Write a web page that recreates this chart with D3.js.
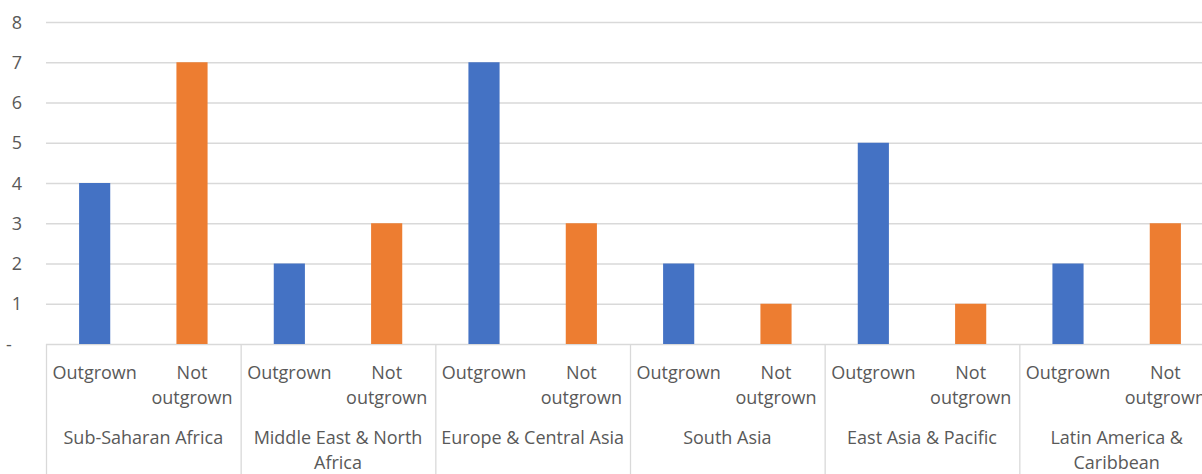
<!DOCTYPE html>
<html>
<head>
<meta charset="utf-8">
<script src="https://cdn.jsdelivr.net/npm/d3@7"></script>
<style>
  html, body { margin: 0; padding: 0; background: #fff; overflow: hidden; }
  text { font-family: "Open Sans", sans-serif; fill: #595959; }
</style>
</head>
<body>
<svg id="chart" width="1202" height="474"></svg>
<script>
const regions = [
  ["Sub-Saharan Africa"],
  ["Middle East & North", "Africa"],
  ["Europe & Central Asia"],
  ["South Asia"],
  ["East Asia & Pacific"],
  ["Latin America &", "Caribbean"]
];
const subCategories = ["Outgrown", "Not outgrown"];
const subLabelLines = [["Outgrown"], ["Not", "outgrown"]];
const outgrown    = [4, 2, 7, 2, 5, 2];
const notOutgrown = [7, 3, 3, 1, 1, 3];
const yTicks = [0, 1, 2, 3, 4, 5, 6, 7, 8];

(function () {
const svg = d3.select("#chart");
const plotLeft = 46, plotRight = 1214, plotTop = 22, plotBottom = 344;
const colors = ["#4472C4", "#ED7D31"];

const x0 = d3.scaleBand().domain(d3.range(regions.length)).range([plotLeft, plotRight]).padding(0);
const x1 = d3.scaleBand().domain(subCategories).range([0, x0.bandwidth()]).padding(0);
const y = d3.scaleLinear().domain([0, 8]).range([plotBottom, plotTop]);

// gridlines
svg.append("g").selectAll("line").data(yTicks).join("line")
  .attr("x1", plotLeft).attr("x2", plotRight)
  .attr("y1", d => y(d) + 0.5).attr("y2", d => y(d) + 0.5)
  .attr("stroke", "#d9d9d9").attr("stroke-width", 1.3);

// y labels
svg.append("g").selectAll("text").data(yTicks).join("text")
  .attr("x", d => d === 0 ? 9 : 22)
  .attr("y", d => y(d) + 6.5)
  .attr("text-anchor", d => d === 0 ? "middle" : "end")
  .attr("font-size", 18)
  .text(d => d === 0 ? "-" : d);

// bars
const bw = x1.bandwidth() * 0.32;
const series = [outgrown, notOutgrown];
const barData = [];
regions.forEach((r, i) => subCategories.forEach((s, j) => barData.push({i, s, j, v: series[j][i]})));
svg.append("g").selectAll("rect").data(barData).join("rect")
  .attr("x", d => x0(d.i) + x1(d.s) + x1.bandwidth() / 2 - bw / 2)
  .attr("width", bw)
  .attr("y", d => y(d.v))
  .attr("height", d => y(0) - y(d.v))
  .attr("fill", d => colors[d.j]);

// category separators
const seps = d3.range(regions.length + 1).map(i => i === regions.length ? plotRight : x0(i));
svg.append("g").selectAll("line").data(seps).join("line")
  .attr("x1", d => d + 0.5).attr("x2", d => d + 0.5)
  .attr("y1", plotBottom).attr("y2", 474)
  .attr("stroke", "#d9d9d9").attr("stroke-width", 1.3);

// sub-category labels
const subG = svg.append("g");
regions.forEach((r, i) => {
  subCategories.forEach((s, j) => {
    const cx = x0(i) + x1(s) + x1.bandwidth() / 2;
    subLabelLines[j].forEach((line, k) => {
      subG.append("text")
        .attr("x", cx).attr("y", 379 + k * 25)
        .attr("text-anchor", "middle").attr("font-size", 18)
        .text(line);
    });
  });
});

// region labels
const regG = svg.append("g");
regions.forEach((lines, i) => {
  const cx = x0(i) + x0.bandwidth() / 2;
  lines.forEach((line, k) => {
    regG.append("text")
      .attr("x", cx).attr("y", 444 + k * 25)
      .attr("text-anchor", "middle").attr("font-size", 18)
      .text(line);
  });
});
})();
</script>
</body>
</html>
